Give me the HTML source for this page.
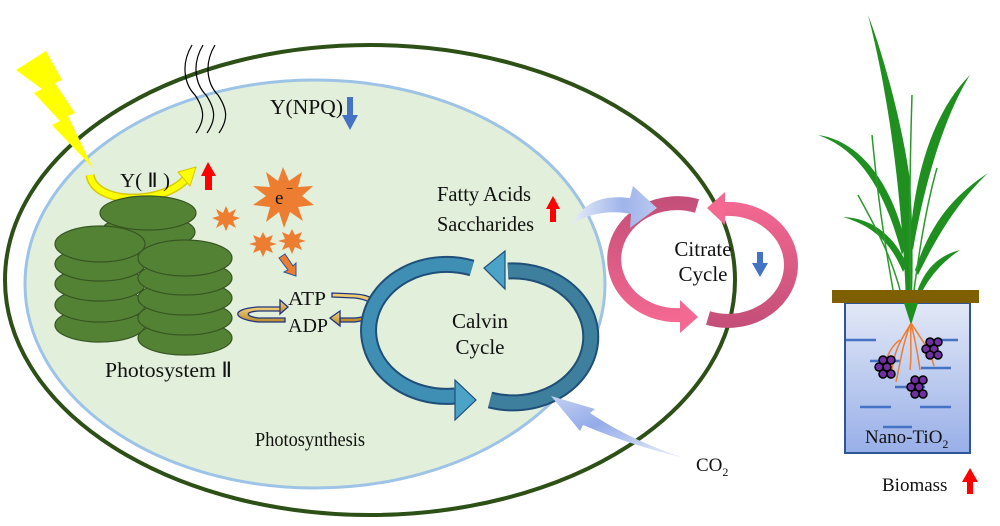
<!DOCTYPE html>
<html><head><meta charset="utf-8"><style>
html,body{margin:0;padding:0;background:#fff}
svg{display:block}
text{font-family:"Liberation Serif",serif;fill:#111}
</style></head><body>
<svg width="1000" height="526" viewBox="0 0 1000 526" xmlns="http://www.w3.org/2000/svg">
<defs>
<linearGradient id="ba" x1="0" y1="0" x2="1" y2="0">
<stop offset="0" stop-color="#e6ecf8"/><stop offset="0.6" stop-color="#9fb4ea"/><stop offset="1" stop-color="#b9c8f0"/></linearGradient>
<linearGradient id="ba2" x1="1" y1="1" x2="0" y2="0">
<stop offset="0" stop-color="#eef2fb"/><stop offset="0.6" stop-color="#93abe8"/><stop offset="1" stop-color="#c4d1f3"/></linearGradient>
<linearGradient id="pot" x1="0" y1="0" x2="0" y2="1">
<stop offset="0" stop-color="#e2e8f6"/><stop offset="1" stop-color="#98afe8"/></linearGradient>
<linearGradient id="cl" gradientUnits="userSpaceOnUse" x1="0" y1="200" x2="0" y2="325">
<stop offset="0" stop-color="#c44f78"/><stop offset="1" stop-color="#f46992"/></linearGradient>
<linearGradient id="cr" gradientUnits="userSpaceOnUse" x1="0" y1="200" x2="0" y2="325">
<stop offset="0" stop-color="#f46992"/><stop offset="1" stop-color="#c44f78"/></linearGradient>
<linearGradient id="gold" x1="0" y1="0" x2="0" y2="1">
<stop offset="0" stop-color="#f3d27a"/><stop offset="1" stop-color="#b98a2a"/></linearGradient>
</defs>

<ellipse cx="370" cy="280" rx="365" ry="235" fill="none" stroke="#2d5016" stroke-width="4"/>
<ellipse cx="315" cy="284" rx="290" ry="204" fill="#e2efda" stroke="#9dc3e6" stroke-width="3"/>

<g fill="none" stroke="#000" stroke-width="1.2">
<path d="M192,45 C180,65 185,85 195,95 C205,110 205,120 196,133"/>
<path d="M203,45 C191,65 196,85 206,95 C216,110 216,120 207,133"/>
<path d="M215,45 C203,65 208,85 218,95 C228,110 228,120 219,133"/>
</g>

<polygon points="16,70 46,51 62,80 55,83 75,113 68,116 93,168 52,125 60,121 34,93 42,89" fill="#ffff00"/>

<path d="M90,175 C95,205 160,205 185,180" fill="none" stroke="#d8c800" stroke-width="9"/>
<path d="M90,175 C95,205 160,205 185,180" fill="none" stroke="#ffff00" stroke-width="6"/>
<polygon points="178,172 196,167 190,186" fill="#ffff00" stroke="#d8c800" stroke-width="1"/>
<text x="120" y="187" font-size="20" textLength="50" lengthAdjust="spacingAndGlyphs">Y( Ⅱ )</text>
<polygon points="201,176 208,162 216,176 212,176 212,190 205,190 205,176" fill="#ff0000"/>

<g fill="#548235" stroke="#375623" stroke-width="1.2">
<ellipse cx="148" cy="232" rx="47" ry="17"/>
<ellipse cx="148" cy="213" rx="48" ry="17"/>
<ellipse cx="100" cy="325" rx="45" ry="17"/>
<ellipse cx="100" cy="305" rx="45" ry="17"/>
<ellipse cx="100" cy="284" rx="45" ry="17"/>
<ellipse cx="100" cy="264" rx="45" ry="17"/>
<ellipse cx="100" cy="244" rx="45" ry="18"/>
<ellipse cx="185" cy="338" rx="47" ry="17"/>
<ellipse cx="185" cy="318" rx="47" ry="17"/>
<ellipse cx="185" cy="298" rx="47" ry="17"/>
<ellipse cx="185" cy="278" rx="47" ry="17"/>
<ellipse cx="185" cy="258" rx="47" ry="18"/>
</g>
<text x="105" y="377" font-size="21" textLength="127" lengthAdjust="spacingAndGlyphs">Photosystem Ⅱ</text>

<g fill="#ed7d31">
<polygon points="283,167 289,181 302,172 298,187 313,186 302,196 314,205 298,207 303,221 290,212 284,228 279,212 266,222 270,207 253,205 266,196 253,186 270,187 266,172 278,181"/>
<polygon points="226,206 229,213 236,209 233,216 240,218 233,221 236,228 229,224 226,231 223,224 216,228 219,221 212,218 219,216 216,209 223,213"/>
<polygon points="263,232 266,238 273,235 270,242 277,244 270,246 273,253 266,250 263,257 260,250 253,253 256,246 249,244 256,242 253,235 260,238"/>
<polygon points="292,229 295,235 302,232 299,239 306,241 299,243 302,250 295,247 292,254 289,247 282,250 285,243 278,241 285,239 282,232 289,235"/>
</g>
<text x="275" y="204" font-size="19">e</text><text x="286" y="193" font-size="13">−</text>
<polygon points="279,258 285,254 293,266 296,263 296,276 284,272 288,270" fill="#ed7d31" stroke="#2f5597" stroke-width="1"/>

<g stroke="#1f3480" stroke-width="1.3" fill="url(#gold)">
<path d="M283,307 L258,307 C230,309 232,319 258,322 L285,322 L285,318 L258,318 C245,316 245,312 258,311 L283,311 Z"/>
<polygon points="280,300 288,307 280,314"/>
<path d="M332,297 L355,298 C380,301 380,316 355,318 L340,318 L340,322 L355,322 C387,318 387,296 355,294 L332,293 Z"/>
<polygon points="340,311 330,318 340,326"/>
</g>
<text x="288" y="305" font-size="20" textLength="38" lengthAdjust="spacingAndGlyphs">ATP</text>
<text x="288" y="332" font-size="20" textLength="40" lengthAdjust="spacingAndGlyphs">ADP</text>

<text x="270" y="114" font-size="21" textLength="73" lengthAdjust="spacingAndGlyphs">Y(NPQ)</text>
<polygon points="347,97 353,97 353,115 358,115 350,130 342,115 347,115" fill="#4472c4"/>

<text x="437" y="201" font-size="21" textLength="94" lengthAdjust="spacingAndGlyphs">Fatty Acids</text>
<text x="437" y="231" font-size="21" textLength="97" lengthAdjust="spacingAndGlyphs">Saccharides</text>
<polygon points="546,209 553,196 560,209 556,209 556,222 550,222 550,209" fill="#ff0000"/>

<g fill="none" stroke-linecap="butt">
<path d="M472,268 A78 66 0 1 0 455,396" stroke="#1f4e79" stroke-width="17"/>
<path d="M472,268 A78 66 0 1 0 455,396" stroke="#3f8fb5" stroke-width="13"/>
<path d="M490,400 A78 66 0 1 0 508,271" stroke="#1f4e79" stroke-width="17"/>
<path d="M490,400 A78 66 0 1 0 508,271" stroke="#3d7f9d" stroke-width="13"/>
</g>
<polygon points="455,380 476,400 455,420" fill="#4ba3c8" stroke="#1f4e79" stroke-width="1.2"/>
<polygon points="505,251 484,268 505,289" fill="#4ba3c8" stroke="#1f4e79" stroke-width="1.2"/>
<text x="480" y="328" font-size="21" text-anchor="middle">Calvin</text>
<text x="480" y="354" font-size="21" text-anchor="middle">Cycle</text>

<g fill="none">
<path d="M697,206 A63 56 0 1 0 682,315" stroke="url(#cl)" stroke-width="14"/>
<path d="M708,318 A63 56 0 1 0 724,209" stroke="url(#cr)" stroke-width="14"/>
</g>
<polygon points="680,300 698,317 680,333" fill="#f46992"/>
<polygon points="725,192 707,208 725,225" fill="#f46992"/>
<text x="703" y="256" font-size="21" text-anchor="middle">Citrate</text>
<text x="703" y="281" font-size="21" text-anchor="middle">Cycle</text>
<polygon points="757,252 763,252 763,263 768,263 760,277 752,263 757,263" fill="#4472c4"/>

<path d="M572,224 C585,200 605,195 630,198 L633,186 L657,208 L630,228 L631,214 C610,210 590,213 572,224 Z" fill="url(#ba)"/>
<path d="M684,458 Q630,445 583,425 L580,431 L551,396 L595,409 L590,413 Q630,440 684,458 Z" fill="url(#ba2)"/>

<text x="255" y="446" font-size="20" textLength="110" lengthAdjust="spacingAndGlyphs">Photosynthesis</text>
<text x="696" y="471" font-size="19">CO<tspan font-size="12" dy="5">2</tspan></text>

<g fill="#1f8f1f">
<path d="M906,300 C902,200 890,100 868,15 C878,40 900,110 910,180 C913,230 913,270 912,300 Z"/>
<path d="M910,240 C915,170 935,110 970,75 C945,115 925,180 913,250 Z"/>
<path d="M902,255 C885,190 860,150 818,135 C855,140 890,175 906,245 Z"/>
<path d="M915,270 C932,220 955,195 988,173 C960,200 940,230 918,275 Z"/>
<path d="M903,272 C890,240 870,225 843,217 C872,218 893,235 907,264 Z"/>
<path d="M917,292 C925,268 940,255 960,250 C945,260 930,275 921,294 Z"/>
</g>
<g fill="none" stroke="#2a9a2a" stroke-width="1.5">
<path d="M911,300 C909,240 910,160 912,95"/>
<path d="M913,298 C918,260 925,210 937,168"/>
<path d="M893,290 C888,260 880,220 872,135"/>
<path d="M900,290 C892,260 880,235 858,195"/>
</g>
<rect x="845" y="303" width="125" height="150" fill="url(#pot)" stroke="#2f5597" stroke-width="2"/>
<rect x="832" y="290" width="147" height="13" fill="#7f6000"/>
<path d="M904,303 L918,303 L911,325 Z" fill="#1f8f1f"/>
<g stroke="#4472c4" stroke-width="2.5">
<line x1="846" y1="340" x2="876" y2="340"/><line x1="930" y1="340" x2="958" y2="340"/>
<line x1="870" y1="361" x2="900" y2="361"/><line x1="921" y1="368" x2="951" y2="368"/>
<line x1="895" y1="387" x2="925" y2="387"/><line x1="860" y1="407" x2="891" y2="407"/>
<line x1="920" y1="407" x2="951" y2="407"/><line x1="883" y1="427" x2="912" y2="427"/>
</g>
<g fill="none" stroke="#ed7d31" stroke-width="1.5">
<path d="M911,323 C905,335 895,345 892,370"/><path d="M911,323 C902,345 900,365 896,382"/>
<path d="M911,323 C915,340 918,355 920,370"/><path d="M911,323 C922,340 930,350 934,366"/>
<path d="M911,323 C910,345 912,355 910,370"/><path d="M900,340 C892,345 888,355 886,360"/>
</g>
<g fill="#7030a0" stroke="#000" stroke-width="1.5">
<circle cx="883" cy="360" r="4"/><circle cx="891" cy="360" r="4"/><circle cx="887" cy="367" r="4"/><circle cx="879" cy="367" r="4"/><circle cx="891" cy="374" r="4"/><circle cx="883" cy="374" r="4"/>
<circle cx="930" cy="342" r="4"/><circle cx="938" cy="342" r="4"/><circle cx="934" cy="349" r="4"/><circle cx="926" cy="349" r="4"/><circle cx="938" cy="355" r="4"/><circle cx="930" cy="355" r="4"/>
<circle cx="915" cy="380" r="4"/><circle cx="923" cy="380" r="4"/><circle cx="919" cy="387" r="4"/><circle cx="911" cy="387" r="4"/><circle cx="923" cy="394" r="4"/><circle cx="915" cy="394" r="4"/>
</g>
<text x="865" y="443" font-size="19">Nano-TiO<tspan font-size="12" dy="5">2</tspan></text>
<text x="882" y="491" font-size="19">Biomass</text>
<polygon points="962,482 970,468 978,482 973,482 973,494 967,494 967,482" fill="#ff0000"/>
</svg>
</body></html>
